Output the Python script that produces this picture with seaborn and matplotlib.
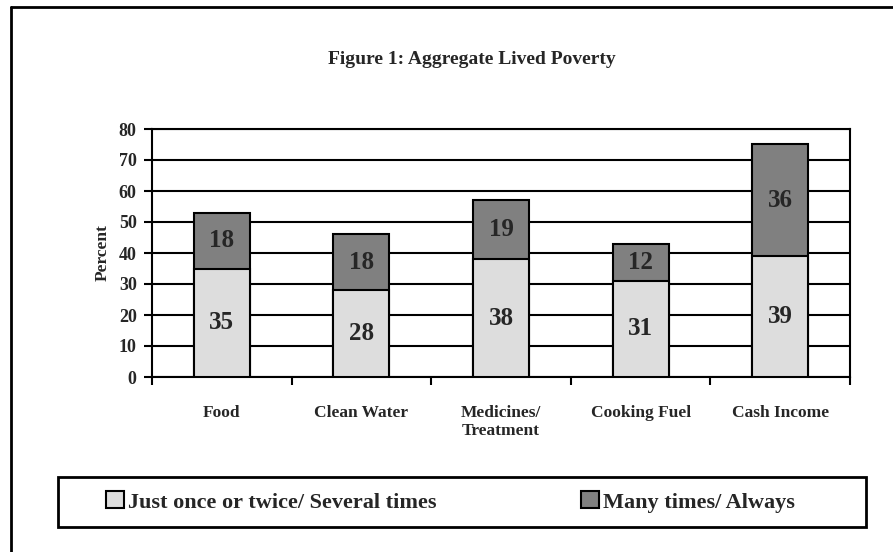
import matplotlib
matplotlib.use('Agg')
import matplotlib.pyplot as plt
import seaborn as sns
import pandas as pd
from matplotlib.lines import Line2D
from matplotlib.patches import Patch, Rectangle

categories = ['Food', 'Clean Water', 'Medicines/\nTreatment', 'Cooking Fuel', 'Cash Income']
low = [35, 28, 38, 31, 39]     # Just once or twice/ Several times
high = [18, 18, 19, 12, 36]    # Many times/ Always
series = ['Just once or twice/ Several times', 'Many times/ Always']
colors = ['#DDDDDD', '#808080']

sns.set_theme(style='white')
plt.rcParams['font.family'] = ['Liberation Serif', 'DejaVu Serif']
plt.rcParams['font.weight'] = 'bold'

W, H = 893, 552
fig = plt.figure(figsize=(W / 100, H / 100), dpi=100)
ax = fig.add_axes([152 / W, 1 - 377 / H, 698 / W, 248 / H])

df = pd.DataFrame({'category': categories, 'low': low,
                   'total': [a + b for a, b in zip(low, high)]})

# stacked bars: draw the total in dark, then the lower part on top in light
sns.barplot(data=df, x='category', y='total', color=colors[1], saturation=1,
            width=0.4, edgecolor='black', linewidth=1.5, ax=ax, zorder=3)
sns.barplot(data=df, x='category', y='low', color=colors[0], saturation=1,
            width=0.4, edgecolor='black', linewidth=1.5, ax=ax, zorder=3)

for i, (a, b) in enumerate(zip(low, high)):
    ax.text(i, a / 2, str(a), ha='center', va='center', fontsize=18, fontweight='bold', zorder=4)
    ax.text(i, a + b / 2, str(b), ha='center', va='center', fontsize=18, fontweight='bold', zorder=4)

ax.set_xlim(-0.5, 4.5)
ax.set_ylim(0, 80)
ax.set_yticks(range(0, 81, 10))
ax.yaxis.grid(True, color='black', linewidth=1.5)
ax.set_axisbelow(True)
ax.set_xlabel('')
ax.set_ylabel('Percent', fontsize=12.5, fontweight='bold', labelpad=6)

ax.set_xticks(range(len(categories)))
ax.set_xticklabels(categories, fontsize=12.5, fontweight='bold')
ax.set_xticks([x - 0.5 for x in range(len(categories) + 1)], minor=True)
ax.tick_params(axis='x', which='major', length=0, pad=20)
ax.tick_params(axis='x', which='minor', length=6, width=1.5, direction='out', color='black')
ax.tick_params(axis='y', length=6, width=1.5, direction='out', color='black', labelsize=13, pad=5)
ax.tick_params(bottom=True, left=True, which='both')
for lab in ax.get_yticklabels():
    lab.set_fontweight('bold')
for sp in ax.spines.values():
    sp.set_color('black')
    sp.set_linewidth(1.5)

fig.text(472 / W, 1 - 59 / H, 'Figure 1: Aggregate Lived Poverty', ha='center', va='center',
         fontsize=14, fontweight='bold')

# legend
handles = [Patch(facecolor=c, edgecolor='black', linewidth=1.5) for c in colors]
fig.legend(handles, series, loc='center left', bbox_to_anchor=(95 / W, 1 - 502 / H),
           ncol=2, frameon=False, prop={'size': 16, 'weight': 'bold'},
           handlelength=0.8, handleheight=0.8, handletextpad=0.2, columnspacing=6.5,
           borderpad=0)
fig.add_artist(Rectangle((58 / W, 1 - 527 / H), 808 / W, 50 / H, transform=fig.transFigure,
                         facecolor='none', edgecolor='black', linewidth=2))

# outer frame (top and left edges visible)
fig.add_artist(Line2D([11 / W, 11 / W], [0, 1 - 7 / H], color='black', linewidth=2,
                      transform=fig.transFigure))
fig.add_artist(Line2D([11 / W, 1], [1 - 7 / H, 1 - 7 / H], color='black', linewidth=2,
                      transform=fig.transFigure))

fig.savefig('out.png', dpi=100)
